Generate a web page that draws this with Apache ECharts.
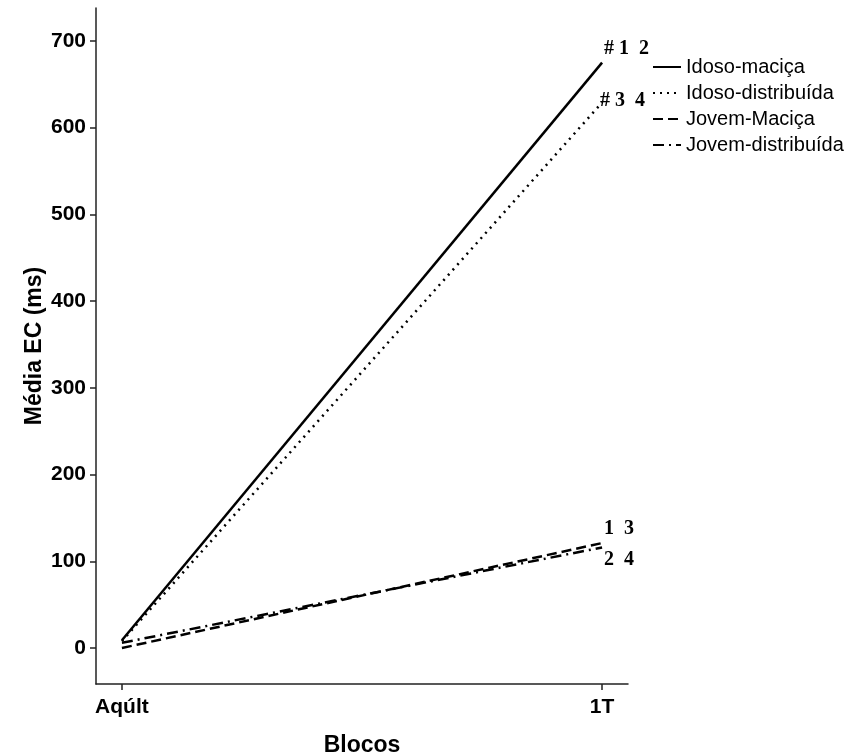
<!DOCTYPE html>
<html>
<head>
<meta charset="utf-8">
<script src="https://cdn.jsdelivr.net/npm/echarts@6/dist/echarts.min.js"></script>
<style>
  html, body { margin: 0; padding: 0; background: #fff; }
  #chart { width: 850px; height: 755px; }
</style>
</head>
<body>
<div id="chart"></div>
<script>
// Blocks on the horizontal axis (positions 0 and 1)
const blocos = ['Aqúlt', '1T'];
// Y tick values
const yTicks = [0, 100, 200, 300, 400, 500, 600, 700];

// Mean EC (ms) per group, one value per block
const idosoMacica = [9, 675];
const idosoDistribuida = [8, 629];
const jovemMacica = [0, 121];
const jovemDistribuida = [6, 116];

// Significance marks placed at the 1T end of each line
const marcas = {
  'Idoso-maciça': '# 1  2',
  'Idoso-distribuída': '# 3  4',
  'Jovem-Maciça': '1  3',
  'Jovem-distribuída': '2  4'
};

const sans = '"Liberation Sans", Arial, sans-serif';
const serif = '"Liberation Serif", "Times New Roman", serif';

function serie(name, values, type, offset) {
  return {
    name: name,
    type: 'line',
    data: values.map((v, i) => [i, v]),
    symbol: 'none',
    silent: true,
    z: 3,
    lineStyle: { color: '#000', width: 2.5, type: type },
    itemStyle: { color: '#000' },
    endLabel: {
      show: true,
      distance: 2,
      offset: offset,
      formatter: marcas[name],
      fontFamily: serif,
      fontWeight: 'bold',
      fontSize: 20,
      color: '#000'
    }
  };
}

const chart = echarts.init(document.getElementById('chart'), null, { renderer: 'canvas' });

chart.setOption({
  animation: false,
  backgroundColor: '#fff',
  grid: { left: 96, top: 8, right: 222, bottom: 71, containLabel: false, outerBoundsMode: 'none' },
  legend: {
    orient: 'vertical',
    left: 652,
    top: 57,
    padding: 0,
    itemWidth: 28,
    itemHeight: 14,
    itemGap: 6,
    itemStyle: { color: 'rgba(0,0,0,0)', borderWidth: 0 },
    textStyle: { fontFamily: sans, fontSize: 20, color: '#000' },
    data: ['Idoso-maciça', 'Idoso-distribuída', 'Jovem-Maciça', 'Jovem-distribuída']
  },
  xAxis: {
    type: 'value',
    min: -0.054,
    max: 1.054,
    name: 'Blocos',
    nameLocation: 'middle',
    nameGap: 50,
    nameMoveOverlap: false,
    nameTextStyle: { fontFamily: sans, fontSize: 23, fontWeight: 'bold', color: '#000' },
    axisLine: { show: true, onZero: false, lineStyle: { color: '#222', width: 1.5 } },
    axisTick: { show: true, length: 6, customValues: [0, 1], lineStyle: { color: '#222', width: 1.5 } },
    axisLabel: {
      customValues: [0, 1],
      formatter: v => blocos[Math.round(v)],
      fontFamily: sans, fontSize: 21, fontWeight: 'bold', color: '#000', margin: 13
    },
    splitLine: { show: false }
  },
  yAxis: {
    type: 'value',
    min: -41.5,
    max: 738,
    name: 'Média EC (ms)',
    nameLocation: 'middle',
    nameGap: 50,
    nameMoveOverlap: false,
    nameRotate: 90,
    nameTextStyle: { fontFamily: sans, fontSize: 23, fontWeight: 'bold', color: '#000' },
    axisLine: { show: true, onZero: false, lineStyle: { color: '#222', width: 1.5 } },
    axisTick: { show: true, length: 6, customValues: yTicks, lineStyle: { color: '#222', width: 1.5 } },
    axisLabel: {
      customValues: yTicks,
      fontFamily: sans, fontSize: 21, fontWeight: 'bold', color: '#000', margin: 10
    },
    splitLine: { show: false }
  },
  series: [
    serie('Idoso-maciça', idosoMacica, 'solid', [0, -14]),
    serie('Idoso-distribuída', idosoDistribuida, [2, 5], [-4, -2]),
    serie('Jovem-Maciça', jovemMacica, [10, 5], [0, -14]),
    serie('Jovem-distribuída', jovemDistribuida, [11, 5, 2, 5], [0, 12])
  ]
});
</script>
</body>
</html>
